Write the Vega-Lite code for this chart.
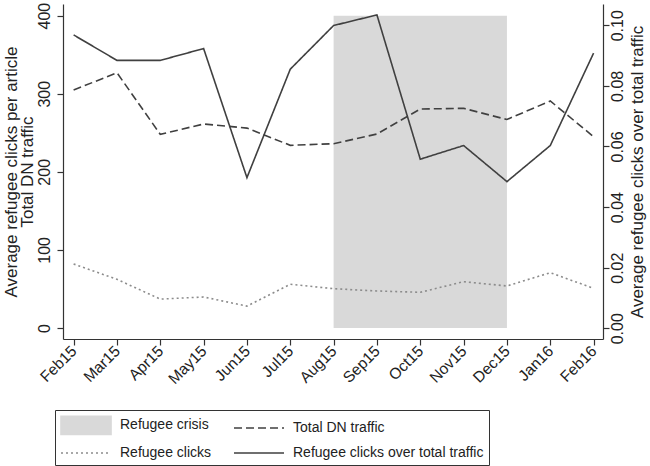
{
  "$schema": "https://vega.github.io/schema/vega-lite/v6.json",
  "autosize": {"type": "none"},
  "padding": {"left": 63, "top": 4, "right": 47, "bottom": 127},
  "width": 540,
  "height": 335,
  "background": "white",
  "config": {
    "view": {"stroke": null},
    "font": "Liberation Sans",
    "axis": {
      "grid": false,
      "domainColor": "#333333",
      "tickColor": "#333333",
      "tickSize": 6,
      "labelColor": "#222222",
      "titleColor": "#222222",
      "labelFont": "Liberation Sans",
      "titleFont": "Liberation Sans",
      "labelFontSize": 16,
      "titleFontSize": 17,
      "titleFontWeight": "normal",
      "domainWidth": 1.2,
      "tickWidth": 1.2,
      "labelOverlap": false
    },
    "legend": {"labelFont": "Liberation Sans"}
  },
  "datasets": {
    "lines": [
      {"idx": 0, "series": "Total DN traffic", "value": 304.7},
      {"idx": 1, "series": "Total DN traffic", "value": 326.9},
      {"idx": 2, "series": "Total DN traffic", "value": 248},
      {"idx": 3, "series": "Total DN traffic", "value": 261.2},
      {"idx": 4, "series": "Total DN traffic", "value": 256},
      {"idx": 5, "series": "Total DN traffic", "value": 233.9},
      {"idx": 6, "series": "Total DN traffic", "value": 236},
      {"idx": 7, "series": "Total DN traffic", "value": 248.4},
      {"idx": 8, "series": "Total DN traffic", "value": 280.4},
      {"idx": 9, "series": "Total DN traffic", "value": 281.3},
      {"idx": 10, "series": "Total DN traffic", "value": 267},
      {"idx": 11, "series": "Total DN traffic", "value": 290.7},
      {"idx": 12, "series": "Total DN traffic", "value": 245},
      {"idx": 0, "series": "Refugee clicks", "value": 82},
      {"idx": 1, "series": "Refugee clicks", "value": 62.3},
      {"idx": 2, "series": "Refugee clicks", "value": 37},
      {"idx": 3, "series": "Refugee clicks", "value": 39.7},
      {"idx": 4, "series": "Refugee clicks", "value": 28},
      {"idx": 5, "series": "Refugee clicks", "value": 56},
      {"idx": 6, "series": "Refugee clicks", "value": 50.3},
      {"idx": 7, "series": "Refugee clicks", "value": 47.4},
      {"idx": 8, "series": "Refugee clicks", "value": 45.7},
      {"idx": 9, "series": "Refugee clicks", "value": 59.3},
      {"idx": 10, "series": "Refugee clicks", "value": 53.8},
      {"idx": 11, "series": "Refugee clicks", "value": 70.8},
      {"idx": 12, "series": "Refugee clicks", "value": 50.8}
    ],
    "ratio": [
      {"idx": 0, "series": "Refugee clicks over total traffic", "ratio": 0.0968},
      {"idx": 1, "series": "Refugee clicks over total traffic", "ratio": 0.0884},
      {"idx": 2, "series": "Refugee clicks over total traffic", "ratio": 0.0884},
      {"idx": 3, "series": "Refugee clicks over total traffic", "ratio": 0.0923},
      {"idx": 4, "series": "Refugee clicks over total traffic", "ratio": 0.0497},
      {"idx": 5, "series": "Refugee clicks over total traffic", "ratio": 0.0855},
      {"idx": 6, "series": "Refugee clicks over total traffic", "ratio": 0.0999},
      {"idx": 7, "series": "Refugee clicks over total traffic", "ratio": 0.1034},
      {"idx": 8, "series": "Refugee clicks over total traffic", "ratio": 0.0558},
      {"idx": 9, "series": "Refugee clicks over total traffic", "ratio": 0.0603},
      {"idx": 10, "series": "Refugee clicks over total traffic", "ratio": 0.0484},
      {"idx": 11, "series": "Refugee clicks over total traffic", "ratio": 0.0603},
      {"idx": 12, "series": "Refugee clicks over total traffic", "ratio": 0.0908}
    ],
    "crisis": [
      {"start": 6, "end": 10, "lo": 0, "hi": 400, "series": "Refugee crisis"}
    ]
  },
  "encoding": {
    "x": {
      "field": "idx",
      "type": "quantitative",
      "scale": {"domain": [-0.245, 12.217], "nice": false, "zero": false},
      "axis": {
        "title": null,
        "values": [0,1,2,3,4,5,6,7,8,9,10,11,12],
        "labelExpr": "['Feb15','Mar15','Apr15','May15','Jun15','Jul15','Aug15','Sep15','Oct15','Nov15','Dec15','Jan16','Feb16'][datum.value]",
        "labelAngle": -45,
        "labelAlign": "right",
        "labelBaseline": "middle",
        "labelPadding": 3,
        "labelFontSize": 15.5
      }
    },
    "color": {
      "field": "series",
      "type": "nominal",
      "scale": {
        "domain": ["Refugee crisis", "Total DN traffic", "Refugee clicks", "Refugee clicks over total traffic"],
        "range": ["#d9d9d9", "#404040", "#8c8c8c", "#404040"]
      },
      "legend": {
        "orient": "none",
        "direction": "horizontal",
        "legendX": -8,
        "legendY": 406,
        "columns": 2,
        "title": null,
        "symbolType": "M-1,0L4.56,0",
        "symbolSize": 324,
        "symbolStrokeWidth": 1.6,
        "strokeColor": "#333333",
        "padding": 5,
        "labelFontSize": 14,
        "labelColor": "#222222",
        "labelOffset": 40,
        "labelLimit": 0,
        "columnPadding": 18,
        "rowPadding": 5,
        "encode": {
          "symbols": {
            "update": {
              "shape": {"signal": "datum.value === 'Refugee crisis' ? 'M-1,-1L4.56,-1L4.56,1L-1,1Z' : 'M-1,0L4.56,0'"},
              "fill": {"signal": "datum.value === 'Refugee crisis' ? '#d9d9d9' : 'transparent'"},
              "strokeCap": {"value": "butt"}
            }
          }
        }
      }
    },
    "strokeDash": {
      "field": "series",
      "type": "nominal",
      "scale": {
        "domain": ["Refugee crisis", "Total DN traffic", "Refugee clicks", "Refugee clicks over total traffic"],
        "range": [[1, 0], [8, 4], [2, 3], [1, 0]]
      }
    }
  },
  "layer": [
    {
      "layer": [
        {
          "data": {"name": "crisis"},
          "mark": {"type": "rect"},
          "encoding": {
            "x": {"field": "start", "type": "quantitative"},
            "x2": {"field": "end"},
            "y": {"field": "lo", "type": "quantitative"},
            "y2": {"field": "hi"},
            "strokeDash": null
          }
        },
        {
          "data": {"name": "lines"},
          "mark": {"type": "line", "strokeWidth": 1.6},
          "encoding": {
            "y": {
              "field": "value",
              "type": "quantitative",
              "scale": {"domain": [-14.1, 414.9], "nice": false, "zero": false},
              "axis": {
                "values": [0, 100, 200, 300, 400],
                "labelAngle": -90,
                "labelAlign": "center",
                "labelBaseline": "bottom",
                "labelPadding": 5,
                "title": ["Average refugee clicks per article", "Total DN traffic"],
                "titleLineHeight": 16,
                "titlePadding": 0
              }
            }
          }
        }
      ]
    },
    {
      "data": {"name": "ratio"},
      "mark": {"type": "line", "strokeWidth": 1.6},
      "encoding": {
        "y": {
          "field": "ratio",
          "type": "quantitative",
          "scale": {"domain": [-0.00353, 0.107], "nice": false, "zero": false},
          "axis": {
            "orient": "right",
            "values": [0, 0.02, 0.04, 0.06, 0.08, 0.1],
            "format": ".2f",
            "labelAngle": -90,
            "labelAlign": "center",
            "labelBaseline": "top",
            "labelPadding": 0,
            "title": "Average refugee clicks over total traffic",
            "titleAngle": -90,
            "titleBaseline": "top",
            "titlePadding": 4
          }
        }
      }
    }
  ],
  "resolve": {"scale": {"y": "independent"}}
}
